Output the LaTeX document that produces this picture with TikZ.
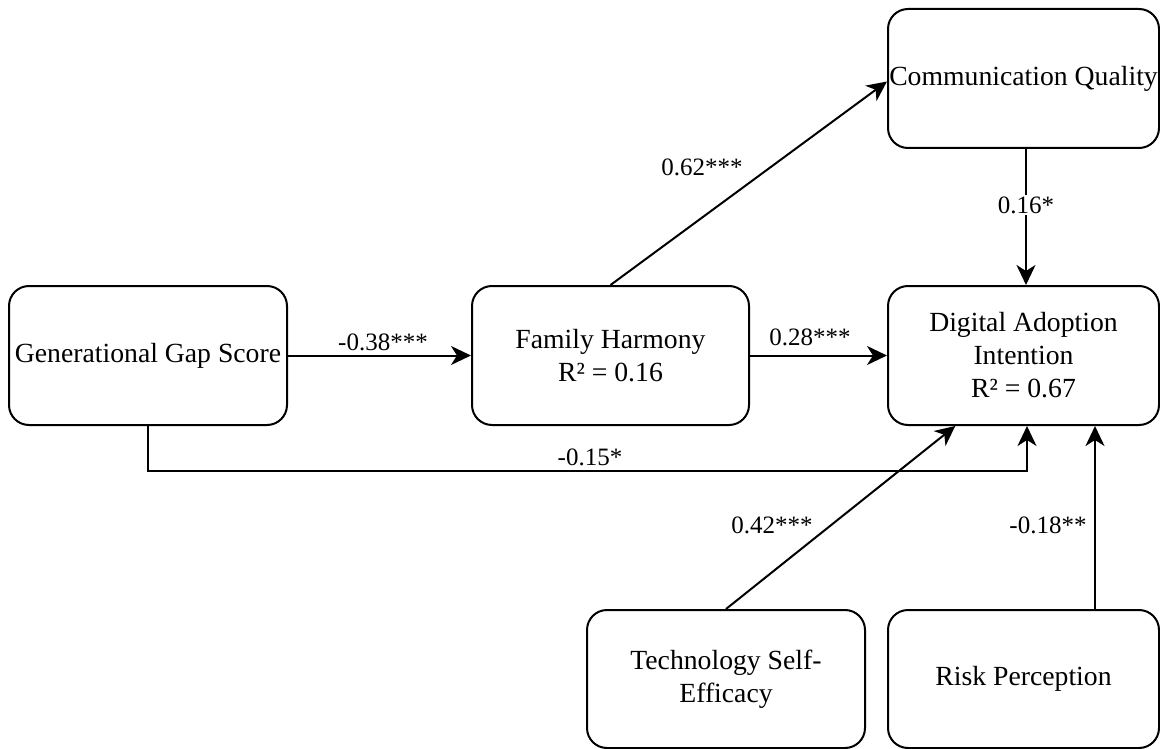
\documentclass[tikz,border=0pt]{standalone}
\usepackage{fontspec}
\setmainfont{Liberation Serif}
\usetikzlibrary{arrows.meta,calc}
\begin{document}
\begin{tikzpicture}[x=1pt,y=-1pt,
  box/.style={draw, line width=2pt, rounded corners=20pt, align=center, inner sep=0pt,
    minimum height=139pt, font=\fontsize{27.7}{33}\selectfont},
  arr/.style={line width=2pt, -{Stealth[length=20pt,width=19pt,inset=6pt]}},
  lbl/.style={font=\fontsize{25}{30}\selectfont, inner sep=2pt},
]
\useasboundingbox (0,0) rectangle (1160,749);

\node[box, minimum width=278pt] (gen) at (148,355.5) {Generational Gap Score};
\node[box, minimum width=277pt] (fam) at (610.5,355.5) {Family Harmony\\R² = 0.16};
\node[box, minimum width=271pt] (dig) at (1023.5,355.5) {Digital Adoption\\Intention\\R² = 0.67};
\node[box, minimum width=271pt] (com) at (1023.5,78.5) {Communication Quality};
\node[box, minimum width=278pt, minimum height=138pt] (tech) at (726,679) {Technology Self-\\Efficacy};
\node[box, minimum width=271pt, minimum height=138pt] (risk) at (1023.5,679) {Risk Perception};

% connectors
\draw[arr] (gen) -- (fam);
\draw[arr] (fam) -- (dig);
\draw[arr] (fam.north) -- ($(com.west)+(0,3)$);
\draw[arr] ($(com.south)+(2.5,0)$) -- ($(dig.north)+(2.5,0)$);
\coordinate (gd) at (1027,471);
\draw[arr] (gen.south) -- (gen.south |- gd) -- (gd) -- (gd |- dig.south);
\draw[arr] (tech.north) -- ($(dig.south west)!0.25!(dig.south east)$);
\coordinate (rp) at ($(risk.north)+(71.5,0)$);
\draw[arr] (rp) -- (rp |- dig.south);

% labels
\node[lbl] (l1) at (383,342) {-0.38***};
\node[lbl] (l2) at (810,337) {0.28***};
\node[lbl] (l3) at (702,167) {0.62***};
\node[lbl, fill=white] (l4) at (1026,205) {0.16*};
\node[lbl] (l5) at (590,457) {-0.15*};
\node[lbl] (l6) at (772,525) {0.42***};
\node[lbl] (l7) at (1048,525) {-0.18**};
\end{tikzpicture}
\end{document}
